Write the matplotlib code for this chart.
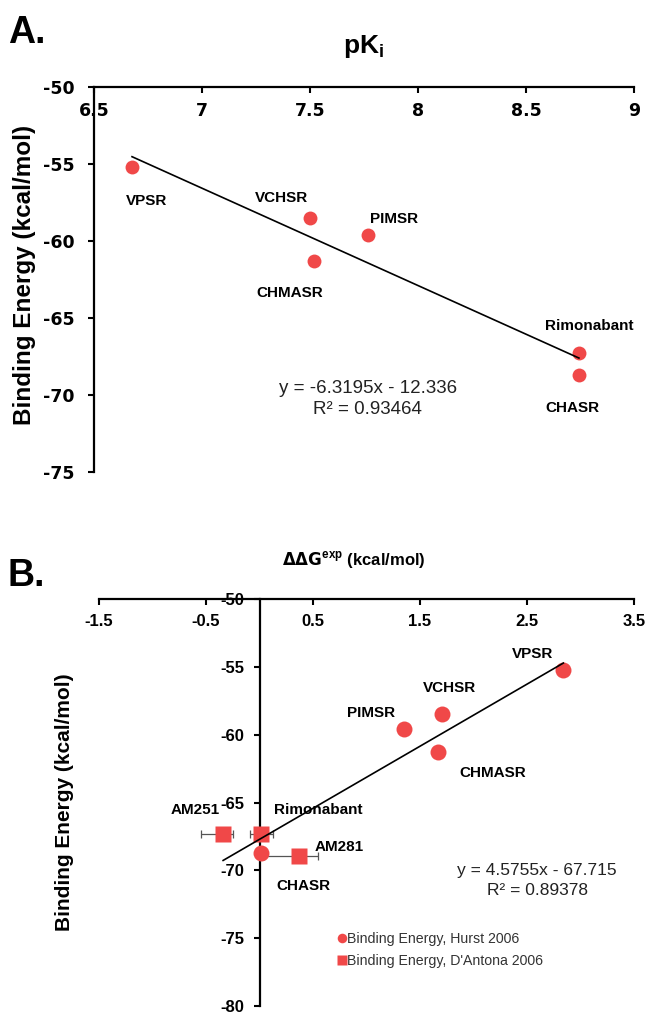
import numpy as np
import matplotlib
matplotlib.use("Agg")
import matplotlib.pyplot as plt

plt.rcParams['font.family'] = ['Liberation Sans', 'DejaVu Sans']

# ---------------- data ----------------
compounds_a = ["VPSR", "VCHSR", "PIMSR", "CHMASR", "Rimonabant", "CHASR"]
pki_a = [6.676, 7.50, 7.77, 7.52, 8.745, 8.745]
energy_a = [-55.2, -58.5, -59.6, -61.3, -67.3, -68.7]
fit_a = (-6.3195, -12.336)
eq_a = ["y = -6.3195x - 12.336", "R² = 0.93464"]

hurst_names = ["VPSR", "VCHSR", "PIMSR", "CHMASR", "CHASR"]
hurst_ddg = [2.84, 1.71, 1.35, 1.67, 0.01]
hurst_energy = [-55.2, -58.5, -59.6, -61.3, -68.7]

dantona_names = ["AM251", "Rimonabant", "AM281"]
dantona_ddg = [-0.34, 0.01, 0.37]
dantona_energy = [-67.35, -67.35, -68.97]
dantona_err_lo = [0.21, 0.10, 0.33]
dantona_err_hi = [0.09, 0.12, 0.18]
fit_b = (4.5755, -67.715)
fit_b_range = (-0.34, 2.84)
eq_b = ["y = 4.5755x - 67.715", "R² = 0.89378"]

xticks_a = [6.5, 7, 7.5, 8, 8.5, 9]
yticks_a = [-75, -70, -65, -60, -55, -50]
xticks_b = [-1.5, -0.5, 0.5, 1.5, 2.5, 3.5]
yticks_b = [-80, -75, -70, -65, -60, -55, -50]

RED = '#F04848'

# ---------------- figure ----------------
W, H = 650, 1014
fig = plt.figure(figsize=(W / 100, H / 100), dpi=100)

def axes_px(l, t, r, b):
    return fig.add_axes([l / W, 1 - b / H, (r - l) / W, (b - t) / H])

def style(ax, xlo, xhi, ylo, yhi, yspine_x, xt, yt, fs, fam, xpad, ypad):
    ax.set_xlim(xlo, xhi)
    ax.set_ylim(ylo, yhi)
    for s in ['top', 'right']:
        ax.spines[s].set_visible(False)
    ax.spines['bottom'].set_position(('data', yhi))
    ax.spines['left'].set_position(('data', yspine_x))
    for s in ['bottom', 'left']:
        ax.spines[s].set_linewidth(1.6)
    ax.set_xticks(xt)
    ax.set_yticks(yt)
    ax.set_xticklabels([f"{v:g}" for v in xt], fontweight='bold', fontsize=fs, family=fam)
    ax.set_yticklabels([f"{v:g}" for v in yt], fontweight='bold', fontsize=fs, family=fam)
    ax.tick_params(axis='both', direction='out', length=4, width=1.5)
    ax.tick_params(axis='x', pad=xpad)
    ax.tick_params(axis='y', pad=ypad)
    ax.patch.set_alpha(0)

# ---------------- panel A ----------------
axA = axes_px(94, 87, 634, 472)
style(axA, 6.5, 9, -75, -50, 6.5, xticks_a, yticks_a, 12.5, ['DejaVu Sans'], 7, 10)

xs = np.array([min(pki_a), max(pki_a)])
axA.plot(xs, fit_a[0] * xs + fit_a[1], color='black', lw=1.2, zorder=3)
axA.plot(pki_a, energy_a, 'o', color=RED, ms=10, mec='none', zorder=2)

offsets_a = {"VPSR": (15, -34), "VCHSR": (-28, 20), "PIMSR": (26, 16),
             "CHMASR": (-25, -32), "Rimonabant": (10, 27), "CHASR": (-6, -33)}
for n, x, y in zip(compounds_a, pki_a, energy_a):
    axA.annotate(n, (x, y), xytext=offsets_a[n], textcoords='offset pixels',
                 ha='center', va='center', fontweight='bold', fontsize=11)

axA.text(0.507, 0.2156, eq_a[0], transform=axA.transAxes, ha='center', va='center',
         fontsize=13.5, color='#222222')
axA.text(0.507, 0.1636, eq_a[1], transform=axA.transAxes, ha='center', va='center',
         fontsize=13.5, color='#222222')

fig.text(364 / W, 1 - 47 / H, r"pK$_\mathregular{i}$", ha='center', va='center',
         fontsize=19, fontweight='bold')
fig.text(25 / W, 1 - 275 / H, "Binding Energy (kcal/mol)", rotation=90, ha='center',
         va='center', fontsize=17.5, fontweight='bold')
fig.text(8 / W, 1 - 33 / H, "A.", ha='left', va='center', fontsize=27, fontweight='bold')

# ---------------- panel B ----------------
axB = axes_px(99, 599, 634, 1006)
style(axB, -1.5, 3.5, -80, -50, 0, xticks_b, yticks_b, 12, ['Liberation Sans'], 7, 7)

xb = np.array(fit_b_range)
axB.plot(xb, fit_b[0] * xb + fit_b[1], color='black', lw=1.2, zorder=4)
axB.errorbar(dantona_ddg, dantona_energy, xerr=[dantona_err_lo, dantona_err_hi],
             fmt='none', ecolor='#555555', elinewidth=0.9, capsize=3, capthick=0.9, zorder=2)
axB.plot(hurst_ddg, hurst_energy, 'o', color=RED, ms=11.5, mec='none', zorder=3,
         label="Binding Energy, Hurst 2006")
axB.plot(dantona_ddg, dantona_energy, 's', color=RED, ms=11, mec='none', zorder=3,
         label="Binding Energy, D'Antona 2006")

offsets_b = {"VPSR": (-31, 16), "VCHSR": (7, 26), "PIMSR": (-33, 16),
             "CHMASR": (55, -21), "CHASR": (43, -33),
             "AM251": (-28, 24), "Rimonabant": (58, 24), "AM281": (40, 9)}
for n, x, y in list(zip(hurst_names, hurst_ddg, hurst_energy)) + \
        list(zip(dantona_names, dantona_ddg, dantona_energy)):
    axB.annotate(n, (x, y), xytext=offsets_b[n], textcoords='offset pixels',
                 ha='center', va='center', fontweight='bold', fontsize=11)

axB.text(0.819, 0.334, eq_b[0], transform=axB.transAxes, ha='center', va='center',
         fontsize=12.5, color='#222222')
axB.text(0.819, 0.285, eq_b[1], transform=axB.transAxes, ha='center', va='center',
         fontsize=12.5, color='#222222')

leg = axB.legend(loc='upper left', bbox_to_anchor=(338 / W, 1 - 932 / H),
                 bbox_transform=fig.transFigure, frameon=False, fontsize=10.2,
                 handlelength=0.5, handletextpad=0.15, labelspacing=0.55,
                 borderpad=0, borderaxespad=0, markerscale=0.6)
for t in leg.get_texts():
    t.set_color('#333333')

fig.text(354 / W, 1 - 560 / H, r"$\mathbf{\Delta\Delta G}^{\mathregular{exp}}$ (kcal/mol)",
         ha='center', va='center', fontsize=12, fontweight='bold')
fig.text(65 / W, 1 - 802 / H, "Binding Energy (kcal/mol)", rotation=90, ha='center',
         va='center', fontsize=15, fontweight='bold')
fig.text(8 / W, 1 - 576 / H, "B.", ha='left', va='center', fontsize=27, fontweight='bold')

fig.savefig("out.png", dpi=100)
